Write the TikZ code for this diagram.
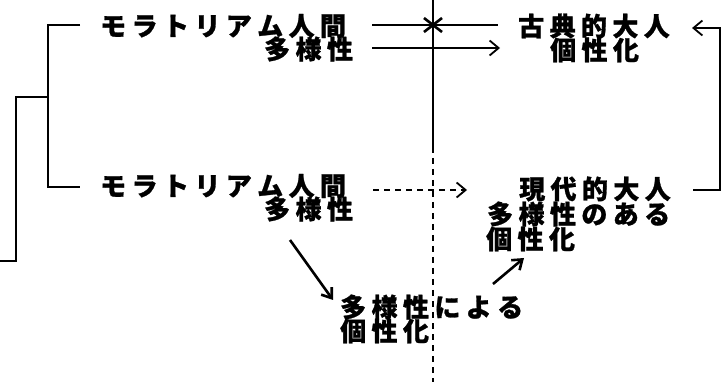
\documentclass[tikz,border=0pt]{standalone}
\usepackage{fontspec}
\newfontfamily\jp[BoldFeatures={FakeBold=1}]{Noto Sans CJK JP}
\usetikzlibrary{arrows.meta}
\newlength\csp
\setlength\csp{5.4pt}
\def\spc#1{\spcB#1\relax}
\def\spcB#1{#1\spcC}
\def\spcC#1{\ifx#1\relax\else\kern\csp#1\expandafter\spcC\fi}
\tikzset{
  ln/.style={line width=1.6pt},
  tx/.style={font=\jp\bfseries\fontsize{26}{26}\selectfont, inner sep=0pt, anchor=west},
  arr/.style={ln,-{Straight Barb[length=9pt,width=15pt,line width=1.8pt]}},
  arrd/.style={line width=2.6pt,-{Straight Barb[length=9pt,width=13pt,line width=2.6pt]}},
  dsh/.style={ln,dash pattern=on 6pt off 5pt}
}
\begin{document}
\begin{tikzpicture}[x=1pt,y=-1pt]
\useasboundingbox (0,0) rectangle (726,382);
% text
\node[tx] (m1) at (100,26) {\spc{モラトリアム人間}};
\node[tx] (d1) at (264,49) {\spc{多様性}};
\node[tx] (k1) at (518,26) {\spc{古典的大人}};
\node[tx] (c1) at (550,50) {\spc{個性化}};
\node[tx] (m2) at (100,186) {\spc{モラトリアム人間}};
\node[tx] (d2) at (264,209) {\spc{多様性}};
\node[tx] (g2) at (519,189) {\spc{現代的大人}};
\node[tx] (t2) at (487,214) {\spc{多様性のある}};
\node[tx] (c2) at (486,239) {\spc{個性化}};
\node[tx] (b1) at (340,307) {\spc{多様性による}};
\node[tx] (b2) at (340,331) {\spc{個性化}};
% coordinates
\coordinate (L1) at (80,25);
\coordinate (L2) at (80,187);
\coordinate (O1) at (48,97);
\coordinate (O2) at (0,261);
\coordinate (V0) at (433,0);
\coordinate (V1) at (433,147);
\coordinate (V2) at (433,382);
\coordinate (X) at (433,25);
\coordinate (A1s) at (372,25);
\coordinate (A1e) at (498,25);
\coordinate (A2s) at (372,48);
\coordinate (A2e) at (500,48);
\coordinate (A3s) at (373,190);
\coordinate (A3e) at (467,190);
\coordinate (R1) at (693,190);
\coordinate (R2) at (692,28);
\coordinate (D1s) at (290,240);
\coordinate (D1e) at (333,300);
\coordinate (D2s) at (493,284);
\coordinate (D2e) at (524,258);
% left brackets
\draw[ln] (L1) -- ++(-32,0) |- (L2);
\draw[ln] (O1) -- ++(-32,0) |- (O2);
% divider
\draw[ln] (V0) -- (V1);
\draw[dsh] (V1) -- (V2);
% top arrows
\draw[ln] (A1s) -- (A1e);
\draw[line width=2.6pt] ([shift={(-9,-7)}]X) -- ([shift={(9,7)}]X)
  ([shift={(-9,7)}]X) -- ([shift={(9,-7)}]X);
\draw[arr] (A2s) -- (A2e);
% dashed arrow
\draw[dsh] (A3s) -- ([xshift=-2pt]A3e);
\draw[arr] ([xshift=-3pt]A3e) -- (A3e);
% right bracket
\draw[arr] (R1) -- ++(27,0) |- (R2);
% diagonals
\draw[arrd] (D1s) -- (D1e);
\draw[arrd] (D2s) -- (D2e);
\end{tikzpicture}
\end{document}
